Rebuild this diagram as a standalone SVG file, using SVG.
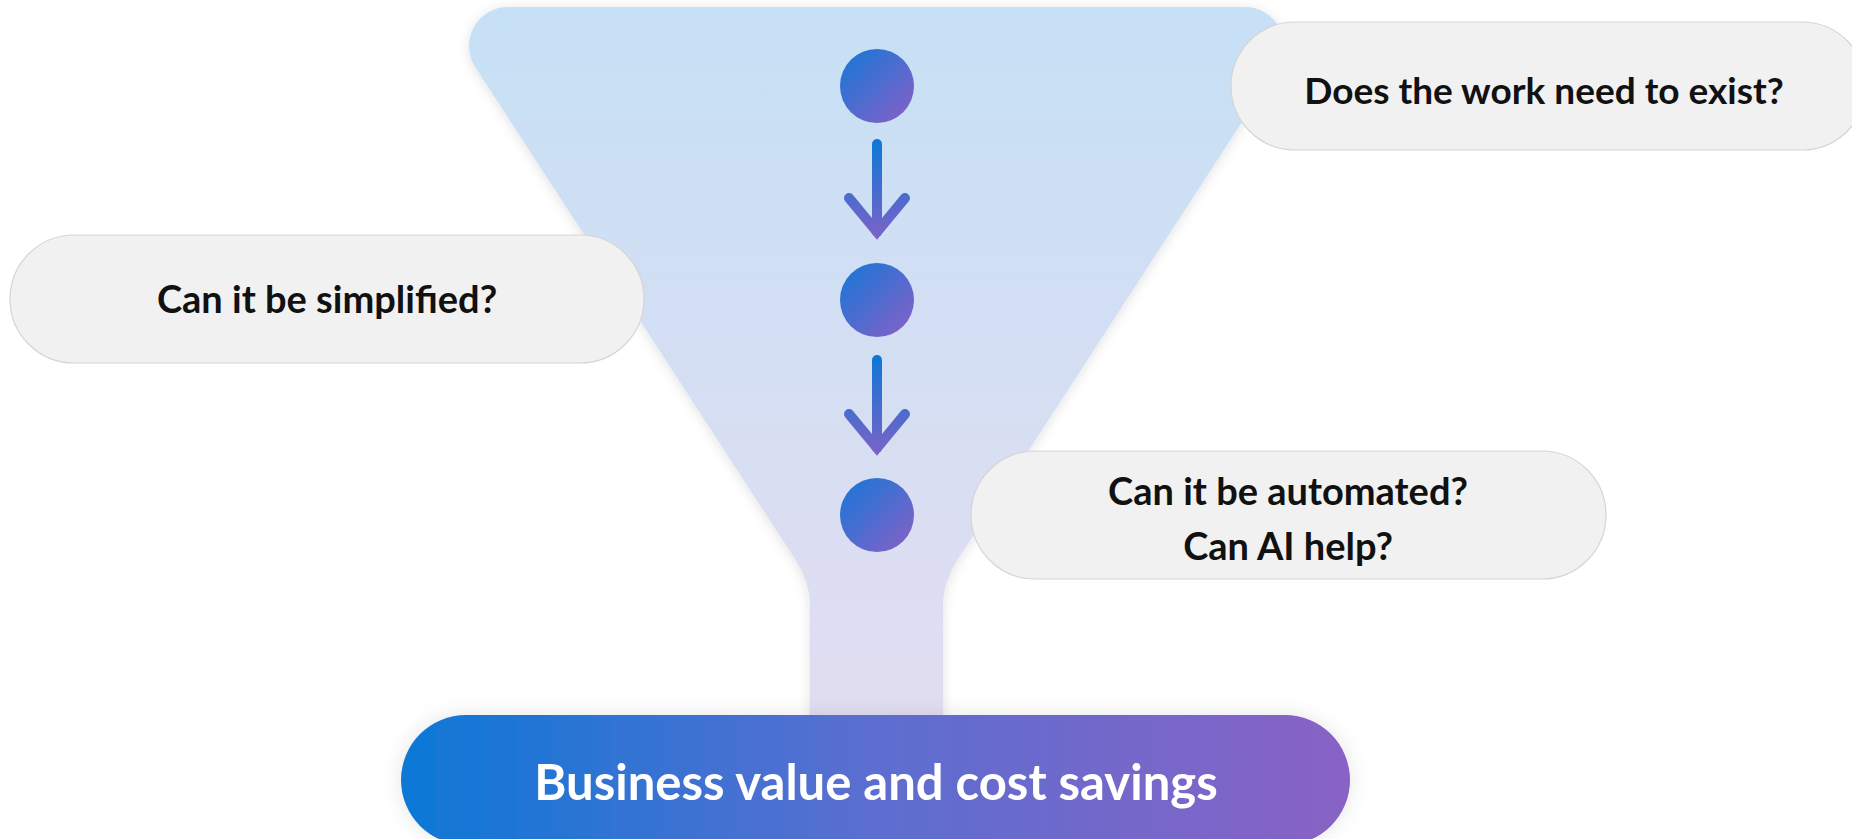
<svg xmlns="http://www.w3.org/2000/svg" width="1852" height="839" viewBox="0 0 1852 839">
  <defs>
    <linearGradient id="funnelFill" x1="0" y1="7" x2="0" y2="715" gradientUnits="userSpaceOnUse">
      <stop offset="0" stop-color="#C6E0F5"/>
      <stop offset="1" stop-color="#E2DDF1"/>
    </linearGradient>
    <linearGradient id="dotFill" x1="0" y1="0" x2="1" y2="1">
      <stop offset="0" stop-color="#1378D8"/>
      <stop offset="1" stop-color="#8A5FC6"/>
    </linearGradient>
    <!-- arrow strokes use user-space gradients so the straight shaft still gets colour -->
    <linearGradient id="arrowStroke1" x1="0" y1="139" x2="0" y2="237" gradientUnits="userSpaceOnUse">
      <stop offset="0" stop-color="#0C78D6"/>
      <stop offset="1" stop-color="#7A62C8"/>
    </linearGradient>
    <linearGradient id="arrowStroke2" x1="0" y1="355" x2="0" y2="453" gradientUnits="userSpaceOnUse">
      <stop offset="0" stop-color="#0C78D6"/>
      <stop offset="1" stop-color="#7A62C8"/>
    </linearGradient>
    <linearGradient id="resultFill" x1="0" y1="0" x2="1" y2="0">
      <stop offset="0" stop-color="#0C78D6"/>
      <stop offset="0.5" stop-color="#5C6ED0"/>
      <stop offset="1" stop-color="#8962C5"/>
    </linearGradient>
    <filter id="softShadow" x="-10%" y="-10%" width="120%" height="130%">
      <feDropShadow dx="0" dy="2" stdDeviation="6" flood-color="#000" flood-opacity="0.12"/>
    </filter>
    <filter id="pillShadow" x="-5%" y="-20%" width="110%" height="140%">
      <feDropShadow dx="0" dy="0" stdDeviation="10" flood-color="#000" flood-opacity="0.10"/>
    </filter>
  </defs>
  <style>
    .question { fill: #F1F1F1; stroke: #D5D5D5; stroke-width: 1.2; }
    .qtext { font-family: Lato, "Open Sans", "Liberation Sans", sans-serif; font-weight: 700; font-size: 38px; fill: #111111; text-anchor: middle; }
    .rtext { font-family: Lato, "Open Sans", "Liberation Sans", sans-serif; font-weight: 700; font-size: 49px; fill: #FFFFFF; text-anchor: middle; }
    .arrow { fill: none; stroke-width: 10; stroke-linecap: round; stroke-linejoin: miter; }
  </style>

  <rect width="1852" height="839" fill="#FFFFFF"/>

  <!-- funnel body with rounded top corners and a narrow stem -->
  <g id="funnel">
    <path filter="url(#softShadow)" fill="url(#funnelFill)"
      d="M 508,7 L 1245,7 A 39 39 0 0 1 1277.7,67.3 L 957.5,560 Q 943,583 943,605 L 943,760 L 810,760 L 810,605 Q 810,583 795.5,560 L 475.3,67.3 A 39 39 0 0 1 508,7 Z"/>
  </g>

  <!-- steps inside the funnel -->
  <g id="step1"><circle cx="877" cy="86" r="37" fill="url(#dotFill)"/></g>
  <g id="step2"><circle cx="877" cy="300" r="37" fill="url(#dotFill)"/></g>
  <g id="step3"><circle cx="877" cy="515" r="37" fill="url(#dotFill)"/></g>

  <!-- arrows between steps -->
  <g id="connectors">
    <g class="arrow" stroke="url(#arrowStroke1)">
      <path d="M 877,144 L 877,232"/>
      <path d="M 849,198 L 877,232 L 905,198"/>
    </g>
    <g class="arrow" stroke="url(#arrowStroke2)">
      <path d="M 877,360 L 877,448"/>
      <path d="M 849,414 L 877,448 L 905,414"/>
    </g>
  </g>

  <!-- question bubbles -->
  <g id="q-exist">
    <rect class="question" x="1231" y="22" width="635" height="128" rx="64"/>
    <text class="qtext" x="1544" y="104" style="font-size:37px">Does the work need to exist?</text>
  </g>
  <g id="q-simplify">
    <rect class="question" x="10" y="235" width="634" height="128" rx="64"/>
    <text class="qtext" x="327" y="313">Can it be simplified?</text>
  </g>
  <g id="q-automate">
    <rect class="question" x="971" y="451" width="635" height="128" rx="64"/>
    <text class="qtext" x="1288" y="505">Can it be automated?</text>
    <text class="qtext" x="1288" y="560">Can AI help?</text>
  </g>

  <!-- outcome bar -->
  <g id="outcome">
    <rect x="401" y="715" width="949" height="130" rx="65" fill="url(#resultFill)" filter="url(#pillShadow)"/>
    <text class="rtext" x="876" y="800">Business value and cost savings</text>
  </g>
</svg>
